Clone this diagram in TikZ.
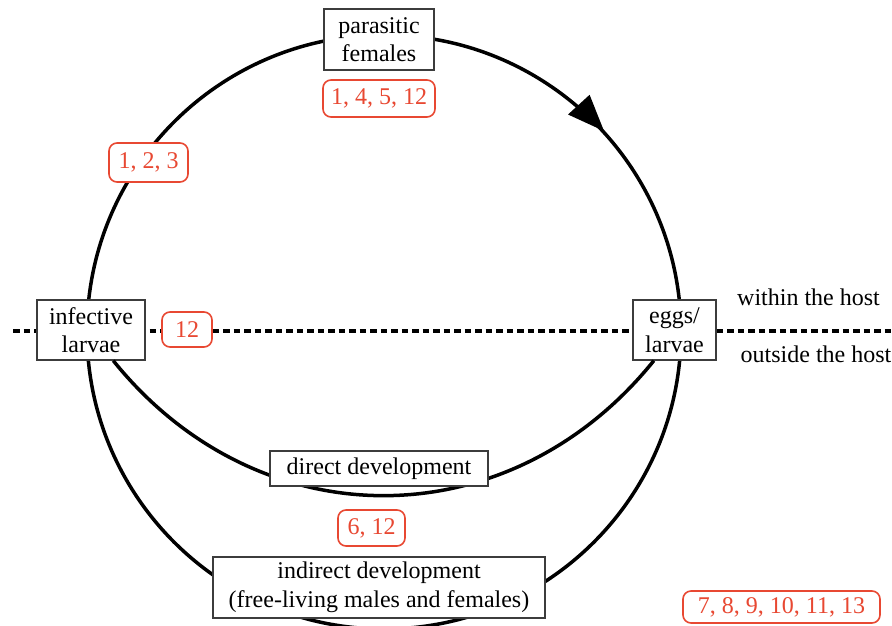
\documentclass[tikz,border=0pt]{standalone}
\usepackage{fontspec}
\setmainfont{Liberation Serif}
\definecolor{labred}{RGB}{232,72,50}
\definecolor{boxgray}{RGB}{60,60,60}
\tikzset{
  stage/.style={draw=boxgray, line width=1.3pt, fill=white, inner sep=0pt, align=center,
    font=\fontsize{24}{28.5}\selectfont},
  reflab/.style={draw=labred, text=labred, line width=1.6pt, rounded corners=8pt, fill=white,
    inner sep=0pt, font=\fontsize{24}{28.5}\selectfont},
  cycle/.style={line width=3.5pt, black},
  hostline/.style={line width=3.2pt, dash pattern=on 6.5pt off 4pt},
  side/.style={font=\fontsize{24}{28.5}\selectfont, inner sep=0pt}
}
\begin{document}
\begin{tikzpicture}[x=1pt, y=-1pt]
\useasboundingbox (0,0) rectangle (892,625);
% host boundary
\coordinate (hl) at (13,331);
\coordinate (hr) at (892,331);
\draw[hostline] (hl) -- (hr);
% life-cycle circle
\coordinate (O) at (384,332);
\draw[cycle] (O) circle[radius=297pt];
% arrowhead on circle
\fill[black] (604,131) -- (589.6,94.8) -- (568,114.5) -- cycle;
% nodes
\node[stage, minimum width=110pt, minimum height=61pt] (PF) at (379,39.5) {parasitic\\females};
\node[stage, minimum width=108pt, minimum height=60pt] (IL) at (91,330) {infective\\larvae};
\node[stage, minimum width=83pt, minimum height=60pt] (EL) at (674.5,330) {eggs/\\larvae};
% direct development path
\draw[cycle] (IL.-54) .. controls +(145,180) and +(-145,180) .. (EL.-124);
\node[stage, minimum width=218pt, minimum height=35pt] (DD) at (379,468.5) {direct development};
\node[stage, minimum width=332pt, minimum height=61pt] (ID) at (379,587.5) {indirect development\\(free-living males and females)};
% reference labels
\node[reflab, minimum width=112pt, minimum height=37pt] (L1) at (379,98.5) {1, 4, 5, 12};
\node[reflab, minimum width=79pt, minimum height=39pt] (L2) at (148.5,162.5) {1, 2, 3};
\node[reflab, minimum width=50pt, minimum height=35pt] (L3) at (187,329.5) {12};
\node[reflab, minimum width=67pt, minimum height=36pt] (L4) at (371.5,528) {6, 12};
\node[reflab, minimum width=197pt, minimum height=32pt] (L5) at (781.5,607) {7, 8, 9, 10, 11, 13};
% host side labels
\node[side, anchor=base west] (within) at (737,305) {within the host};
\node[side, anchor=base west] (outside) at (740.5,362) {outside the host};
\end{tikzpicture}
\end{document}
